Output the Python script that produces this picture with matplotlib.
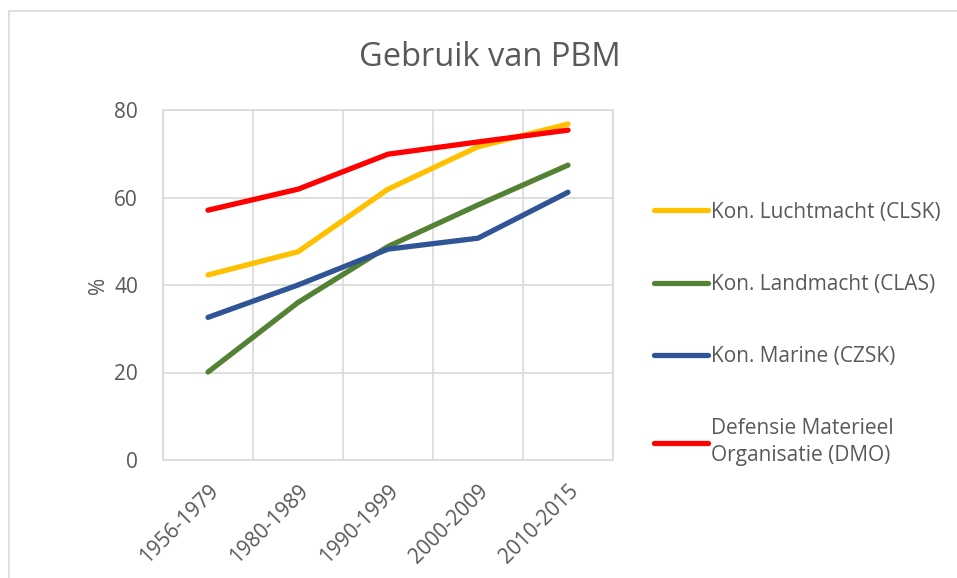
import matplotlib.pyplot as plt
from matplotlib.patches import Rectangle

# Data
periods = ["1956-1979", "1980-1989", "1990-1999", "2000-2009", "2010-2015"]
clsk = [42.3, 47.6, 61.9, 71.6, 76.8]
clas = [20.1, 36.0, 48.8, 58.3, 67.4]
czsk = [32.6, 40.0, 48.2, 50.7, 61.2]
dmo = [57.1, 61.9, 69.9, 72.7, 75.4]

series_names = [
    "Kon. Luchtmacht (CLSK)",
    "Kon. Landmacht (CLAS)",
    "Kon. Marine (CZSK)",
    "Defensie Materieel\nOrganisatie (DMO)",
]
series_values = [clsk, clas, czsk, dmo]
colors = ["#FFC000", "#548235", "#2F5597", "#FF0000"]

TEXT = "#595959"
GRID = "#D9D9D9"

plt.rcParams["font.family"] = ["Open Sans", "DejaVu Sans"]

fig = plt.figure(figsize=(9.57, 5.78), dpi=100)
ax = fig.add_axes([163 / 957, 118 / 578, 450 / 957, 350 / 578])

# chart frame
fig.patches.append(Rectangle((9 / 957, -0.1), 1.2, (578 - 11) / 578 + 0.1,
                             transform=fig.transFigure, fill=False,
                             edgecolor=GRID, lw=1.2))

x = range(len(periods))
handles = []
for vals, name, c in zip(series_values, series_names, colors):
    (ln,) = ax.plot(x, vals, color=c, lw=3.8, solid_capstyle="round",
                    solid_joinstyle="round", label=name)
    handles.append(ln)

ax.set_xlim(-0.5, len(periods) - 0.5)
ax.set_ylim(0, 80)
ax.set_yticks([0, 20, 40, 60, 80])
ax.set_xticks(list(x))
ax.set_xticklabels(periods, rotation=45, ha="right", rotation_mode="anchor")
ax.set_xticks([i - 0.5 for i in range(len(periods) + 1)], minor=True)
ax.grid(True, which="minor", axis="x", color=GRID, lw=1.2)
ax.grid(True, which="major", axis="y", color=GRID, lw=1.2)
ax.set_axisbelow(True)
ax.tick_params(which="both", length=0)
ax.tick_params(axis="y", labelsize=15, labelcolor=TEXT, pad=18)
ax.tick_params(axis="x", labelsize=15, labelcolor=TEXT, pad=15)
for s in ax.spines.values():
    s.set_color(GRID)
    s.set_linewidth(1.2)

ax.set_ylabel("%", fontsize=15, color=TEXT, labelpad=4)
fig.text(490 / 957, 1 - 57 / 578, "Gebruik van PBM", fontsize=23.5,
         color=TEXT, ha="center", va="center")

leg = fig.legend(handles=handles, labels=series_names, loc="upper left",
                 bbox_to_anchor=(635 / 957, 1 - 183 / 578), frameon=False,
                 fontsize=15, labelcolor=TEXT, handlelength=2.6,
                 handletextpad=0.15, labelspacing=2.45)
for t in leg.get_texts():
    t.set_linespacing(1.4)

fig.savefig("out.png", dpi=100)
